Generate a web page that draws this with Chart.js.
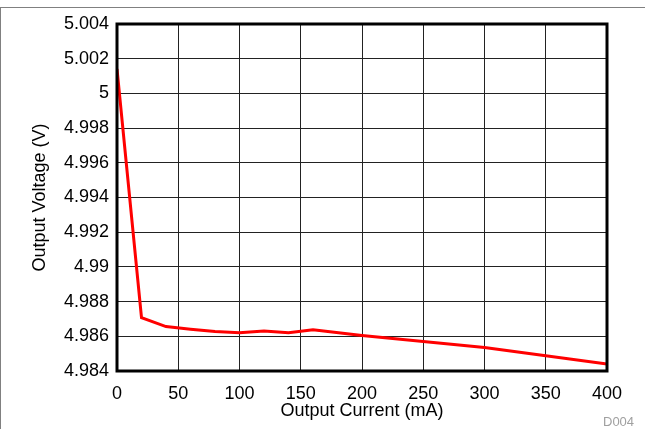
<!DOCTYPE html>
<html>
<head>
<meta charset="utf-8">
<script src="https://cdn.jsdelivr.net/npm/chart.js@4.4.1/dist/chart.umd.min.js"></script>
<style>
  html, body { margin: 0; padding: 0; background: #fff; }
  #wrap { position: relative; width: 645px; height: 429px; overflow: hidden; }
  #frame { position: absolute; left: 0; top: 7px; width: 660px; height: 440px;
           border-top: 1px solid #808080; border-left: 1px solid #808080; box-sizing: border-box; }
  #c { position: absolute; left: 0; top: 0; }
  #tag { position: absolute; left: 603px; top: 414px; font: 13px "Liberation Sans", Arial, sans-serif; color: #a0a0a0; }
</style>
</head>
<body>
<div id="wrap">
  <div id="frame"></div>
  <canvas id="c" width="645" height="429"></canvas>
  <div id="tag">D004</div>
</div>
<script>
const currents = [0, 20, 40, 60, 80, 100, 120, 140, 160, 200, 250, 300, 350, 400];
const voltages = [5.00141, 4.98708, 4.98656, 4.98641, 4.98627, 4.98621, 4.98631, 4.98621, 4.98638, 4.98605, 4.98570, 4.98535, 4.98488, 4.98440];
const xTicks = [0, 50, 100, 150, 200, 250, 300, 350, 400];
const yTicks = [4.984, 4.986, 4.988, 4.99, 4.992, 4.994, 4.996, 4.998, 5, 5.002, 5.004];
const xTitle = 'Output Current (mA)';
const yTitle = 'Output Voltage (V)';

const FONT = '"Liberation Sans", Arial, sans-serif';

const frameBox = {
  id: 'frameBox',
  afterDraw(chart) {
    const a = chart.chartArea, ctx = chart.ctx;
    ctx.save();
    ctx.strokeStyle = '#000';
    ctx.lineWidth = 3;
    ctx.strokeRect(a.left, a.top, a.right - a.left, a.bottom - a.top);
    ctx.restore();
  }
};

new Chart(document.getElementById('c'), {
  type: 'line',
  data: {
    datasets: [{
      data: currents.map((x, i) => ({ x: x, y: voltages[i] })),
      borderColor: '#ff0000',
      borderWidth: 3,
      pointRadius: 0,
      tension: 0,
      fill: false
    }]
  },
  options: {
    responsive: false,
    animation: false,
    devicePixelRatio: 1,
    layout: { padding: { left: 20, right: 38, top: 24, bottom: 7 } },
    plugins: { legend: { display: false }, tooltip: { enabled: false } },
    scales: {
      x: {
        type: 'linear',
        min: 0, max: 400,
        afterBuildTicks: s => { s.ticks = xTicks.map(v => ({ value: v })); },
        afterFit: s => { s.height = 51; },
        grid: { color: '#222', lineWidth: 1, drawTicks: false },
        border: { display: false },
        ticks: { color: '#000', font: { family: FONT, size: 18 }, padding: 12, maxRotation: 0,
                 callback: v => String(v) },
        title: { display: true, text: xTitle, color: '#000', font: { family: FONT, size: 18 },
                 padding: { top: 0, bottom: 0 } }
      },
      y: {
        type: 'linear',
        min: 4.984, max: 5.004,
        afterBuildTicks: s => { s.ticks = yTicks.map(v => ({ value: v })); },
        afterFit: s => { s.width = 97; },
        grid: { color: '#222', lineWidth: 1, drawTicks: false },
        border: { display: false },
        ticks: { color: '#000', font: { family: FONT, size: 18 }, padding: 8,
                 callback: v => String(parseFloat(Number(v).toFixed(3))) },
        title: { display: true, text: yTitle, color: '#000', font: { family: FONT, size: 18 },
                 padding: { top: 9, bottom: 0 } }
      }
    }
  },
  plugins: [frameBox]
});
</script>
</body>
</html>
